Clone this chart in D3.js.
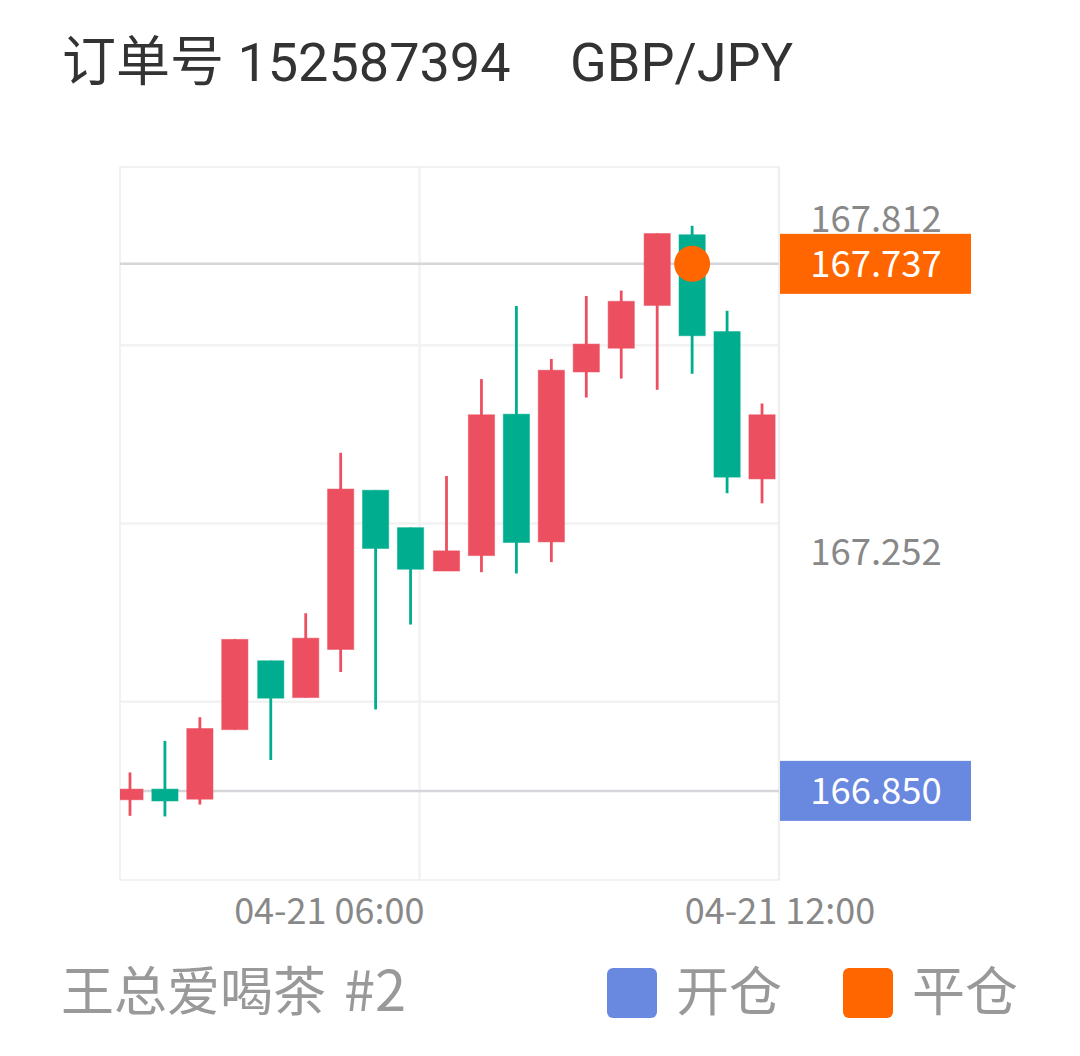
<!DOCTYPE html>
<html>
<head>
<meta charset="utf-8">
<script src="https://cdn.jsdelivr.net/npm/d3@7"></script>
<style>
  html, body { margin: 0; padding: 0; background: #fff; }
  svg { display: block; }
</style>
</head>
<body>
<script>
// candle times (04-21) and OHLC values
const times = ["01:10","01:45","02:20","02:55","03:31","04:06","04:41","05:16","05:51","06:27",
               "07:02","07:37","08:12","08:47","09:22","09:58","10:33","11:08","11:43"]
const opens  = [166.835,166.853,166.836,166.953,167.069,167.007,167.088,167.356,167.293,167.220,
                167.246,167.484,167.269,167.555,167.595,167.667,167.786,167.623,167.375]
const highs  = [166.881,166.934,166.974,167.105,167.069,167.149,167.419,167.356,167.293,167.380,
                167.543,167.666,167.577,167.683,167.692,167.788,167.801,167.658,167.502]
const lows   = [166.808,166.807,166.827,166.953,166.902,167.007,167.050,166.987,167.130,167.220,
                167.218,167.216,167.235,167.512,167.544,167.525,167.552,167.351,167.334]
const closes = [166.853,166.833,166.955,167.105,167.006,167.107,167.358,167.258,167.223,167.254,
                167.483,167.268,167.558,167.602,167.674,167.788,167.616,167.378,167.483]

const gridPrices = [167.0, 167.3, 167.6]
const axisPrices = [167.812, 167.252]
const xTicks = ["06:00", "12:00"]
const openPrice = 166.850, closePrice = 167.737, closeTime = "10:33"

const width = 1080, height = 1056
const plot = {left: 120, right: 779, top: 167, bottom: 880}
const upColor = "#ec5060", downColor = "#00ae8f"
const orange = "#ff6600", blue = "#6988e0"
const cjk = "'Noto Sans CJK SC', 'Noto Sans', sans-serif"

const parse = d3.timeParse("%Y-%m-%d %H:%M")
const t = s => parse("2023-04-21 " + s)

const candles = times.map((s, i) => ({
  time: t(s), open: opens[i], high: highs[i], low: lows[i], close: closes[i]
}))

const svg = d3.select("body").append("svg")
  .attr("width", width).attr("height", height)
  .attr("viewBox", `0 0 ${width} ${height}`)

const x = d3.scaleTime()
  .domain([t("01:00"), t("12:00")])
  .range([plot.left, plot.right])

const y = d3.scaleLinear()
  .domain([166.7, 167.9])
  .range([plot.bottom, plot.top])

// title
svg.append("text").attr("x", 62).attr("y", 81)
  .attr("font-family", "Roboto, " + cjk).attr("font-size", 54).attr("fill", "#333")
  .text("订单号 152587394")
svg.append("text").attr("x", 570).attr("y", 81)
  .attr("font-family", "Roboto, " + cjk).attr("font-size", 54).attr("fill", "#333")
  .text("GBP/JPY")

// grid
const grid = svg.append("g")
grid.selectAll(".hgrid")
  .data(gridPrices)
  .join("line")
  .attr("x1", plot.left).attr("x2", plot.right)
  .attr("y1", d => y(d)).attr("y2", d => y(d))
  .attr("stroke", "#f2f2f2").attr("stroke-width", 2.5)
grid.selectAll(".vgrid")
  .data(xTicks)
  .join("line")
  .attr("x1", d => x(t(d))).attr("x2", d => x(t(d)))
  .attr("y1", plot.top).attr("y2", plot.bottom)
  .attr("stroke", "#f2f2f2").attr("stroke-width", 2.5)
grid.append("rect")
  .attr("x", plot.left).attr("y", plot.top)
  .attr("width", plot.right - plot.left).attr("height", plot.bottom - plot.top)
  .attr("fill", "none").attr("stroke", "#eeeeee").attr("stroke-width", 1.5)

// open / close price lines
svg.selectAll(".pline")
  .data([openPrice, closePrice])
  .join("line")
  .attr("x1", plot.left).attr("x2", plot.right)
  .attr("y1", d => y(d)).attr("y2", d => y(d))
  .attr("stroke", "#d6d6da").attr("stroke-width", 2.5)

// candles
svg.append("clipPath").attr("id", "clip")
  .append("rect")
  .attr("x", plot.left).attr("y", plot.top)
  .attr("width", plot.right - plot.left).attr("height", plot.bottom - plot.top)

const step = x(t("01:45")) - x(t("01:10"))
const bodyW = step * 0.75

const cg = svg.append("g").attr("clip-path", "url(#clip)")
  .selectAll(".candle")
  .data(candles)
  .join("g")
const col = d => d.close >= d.open ? upColor : downColor

cg.append("line")
  .attr("x1", d => x(d.time)).attr("x2", d => x(d.time))
  .attr("y1", d => y(d.high)).attr("y2", d => y(d.low))
  .attr("stroke", col).attr("stroke-width", 2.8)
cg.append("rect")
  .attr("x", d => x(d.time) - bodyW / 2)
  .attr("width", bodyW)
  .attr("y", d => y(Math.max(d.open, d.close)))
  .attr("height", d => Math.max(1, Math.abs(y(d.open) - y(d.close))))
  .attr("fill", col)
  .attr("stroke", col).attr("stroke-opacity", 0.5).attr("stroke-width", 1)

// close marker
svg.append("circle")
  .attr("cx", x(t(closeTime))).attr("cy", y(closePrice))
  .attr("r", 18).attr("fill", orange)

// right axis labels
svg.selectAll(".ylab")
  .data(axisPrices)
  .join("text")
  .attr("x", 876).attr("y", d => y(d))
  .attr("dy", "0.35em")
  .attr("text-anchor", "middle")
  .attr("font-family", cjk).attr("font-size", 36.5).attr("fill", "#888")
  .text(d => d3.format(".3f")(d))

// price tags
const tags = svg.selectAll(".tag")
  .data([{p: openPrice, c: blue}, {p: closePrice, c: orange}])
  .join("g")
tags.append("rect")
  .attr("x", 780).attr("width", 191)
  .attr("y", d => y(d.p) - 30).attr("height", 60)
  .attr("fill", d => d.c)
tags.append("text")
  .attr("x", 876).attr("y", d => y(d.p))
  .attr("dy", "0.35em")
  .attr("text-anchor", "middle")
  .attr("font-family", cjk).attr("font-size", 36.5).attr("fill", "#fff")
  .text(d => d3.format(".3f")(d.p))

// x labels
svg.selectAll(".xlab")
  .data(xTicks)
  .join("text")
  .attr("x", (d, i) => i === 0 ? x(t(d)) + 5 : x(t(d)) + 1)
  .attr("y", 924)
  .attr("text-anchor", (d, i) => i === 0 ? "end" : "middle")
  .attr("font-family", cjk).attr("font-size", 36).attr("fill", "#888")
  .text(d => "04-21 " + d)

// footer
const footer = svg.append("text").attr("x", 61).attr("y", 1011)
  .attr("font-family", cjk).attr("font-size", 53).attr("fill", "#999")
footer.append("tspan").text("王总爱喝茶")
footer.append("tspan").attr("dx", 18).attr("font-size", 56).text("#2")

const legend = svg.selectAll(".leg")
  .data([{label: "开仓", c: blue, x: 607}, {label: "平仓", c: orange, x: 843}])
  .join("g")
  .attr("transform", d => `translate(${d.x},968)`)
legend.append("rect")
  .attr("width", 50).attr("height", 50).attr("rx", 6)
  .attr("fill", d => d.c)
legend.append("text")
  .attr("x", 69).attr("y", 43)
  .attr("font-family", cjk).attr("font-size", 53).attr("fill", "#999")
  .text(d => d.label)
</script>
</body>
</html>
